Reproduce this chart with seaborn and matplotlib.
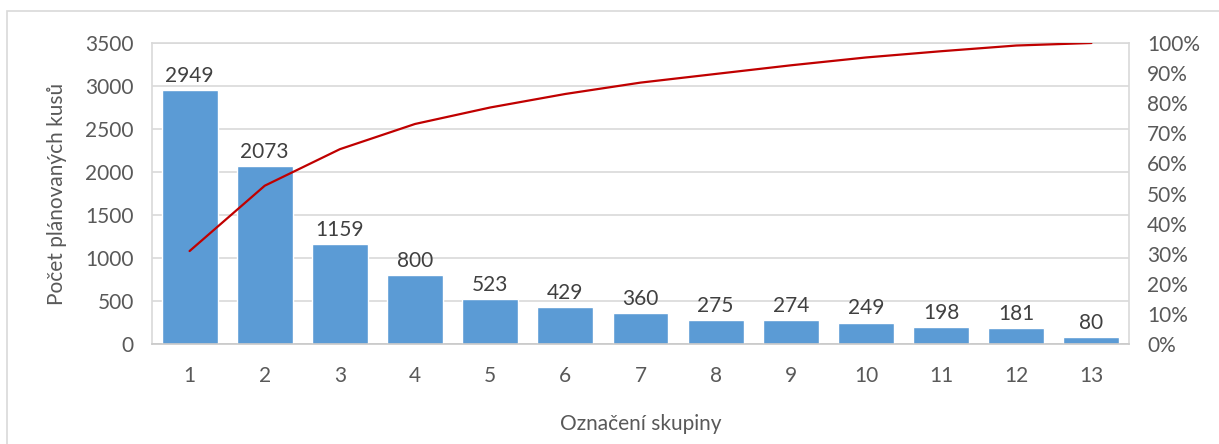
import numpy as np
import pandas as pd
import matplotlib
matplotlib.use("Agg")
import matplotlib.pyplot as plt
from matplotlib.patches import Rectangle
from matplotlib.ticker import MultipleLocator, PercentFormatter
import seaborn as sns

# Planned pieces per product group, sorted for the Pareto view
groups = [1, 2, 3, 4, 5, 6, 7, 8, 9, 10, 11, 12, 13]
pieces = [2949, 2073, 1159, 800, 523, 429, 360, 275, 274, 249, 198, 181, 80]

x_label = "Označení skupiny"
y_label = "Počet plánovaných kusů"

df = pd.DataFrame({"skupina": groups, "kusy": pieces})
df["kumulativne"] = df["kusy"].cumsum() / df["kusy"].sum() * 100

sns.set_theme(style="white")
plt.rcParams["font.family"] = ["Lato", "DejaVu Sans"]

text_color = "#595959"
grid_color = "#D9D9D9"
bar_color = "#5B9BD5"
line_color = "#C00000"
fs = 15

fig = plt.figure(figsize=(12.19, 4.44), dpi=100)
fig.patch.set_facecolor("white")

# light outer frame around the chart
fig.patches.append(Rectangle((7 / 1219, -0.1), 1.2, 1.1 - 11 / 444,
                             transform=fig.transFigure, fill=False,
                             edgecolor="#D9D9D9", linewidth=1.2))

ax = fig.add_axes([152 / 1219, 1 - 344 / 444, (1129 - 152) / 1219, (344 - 43) / 444])
sns.barplot(data=df, x="skupina", y="kusy", native_scale=True, width=0.745,
            color=bar_color, saturation=1, ax=ax, zorder=2)
ax.bar_label(ax.containers[0], labels=[str(v) for v in pieces], padding=3,
             fontsize=fs, color="#404040")

ax.set_xlim(0.5, 13.5)
ax.set_ylim(0, 3500)
ax.yaxis.set_major_locator(MultipleLocator(500))
ax.set_xticks(groups)
ax.set_xticklabels([str(g) for g in groups])
ax.grid(axis="y", color=grid_color, linewidth=1.2, zorder=0)
ax.set_axisbelow(True)
ax.tick_params(axis="both", length=0, labelsize=fs, labelcolor=text_color)
ax.tick_params(axis="y", pad=13)
ax.tick_params(axis="x", pad=16)
for s in ax.spines.values():
    s.set_color(grid_color)
    s.set_linewidth(1.2)
ax.spines["bottom"].set_color("#C8C8C8")
ax.set_xlabel(x_label, fontsize=fs, color=text_color)
ax.set_ylabel(y_label, fontsize=fs, color=text_color)
ax.xaxis.set_label_coords(0.5, -0.266)
ax.yaxis.set_label_coords(-0.097, 0.5)
ax.xaxis.label.set_va("center")
ax.yaxis.label.set_va("center")

ax2 = ax.twinx()
sns.lineplot(data=df, x="skupina", y="kumulativne", color=line_color,
             linewidth=1.6, ax=ax2)
ax2.set_ylim(0, 100)
ax2.yaxis.set_major_locator(MultipleLocator(10))
ax2.yaxis.set_major_formatter(PercentFormatter(decimals=0))
ax2.set_ylabel("")
ax2.tick_params(axis="y", length=0, labelsize=fs, labelcolor=text_color, pad=13)
for s in ax2.spines.values():
    s.set_visible(False)

fig.savefig("out.png", dpi=100)
